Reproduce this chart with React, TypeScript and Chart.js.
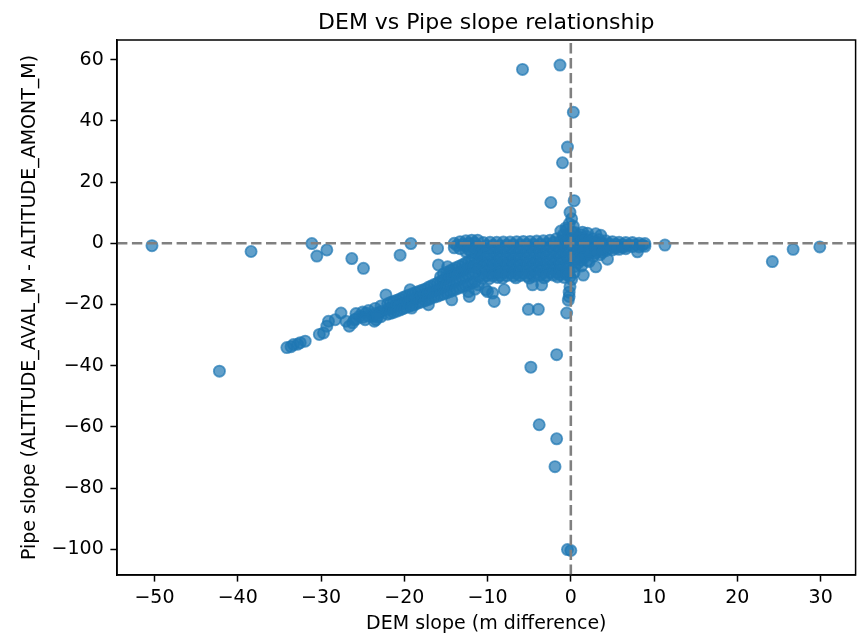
import React, { useEffect, useRef } from "react";
import { Chart, registerables } from "chart.js";

Chart.register(...registerables);

type Pt = [number, number];

const chartTitle = "DEM vs Pipe slope relationship";
const xAxisLabel = "DEM slope (m difference)";
const yAxisLabel = "Pipe slope (ALTITUDE_AVAL_M - ALTITUDE_AMONT_M)";
const xTickValues = [-50, -40, -30, -20, -10, 0, 10, 20, 30];
const yTickValues = [-100, -80, -60, -40, -20, 0, 20, 40, 60];
const xLimits = [-54.5, 34.2];
const yLimits = [-108.4, 66.4];
const referenceX = 0;
const referenceY = 0;

// Isolated points
const sparseOutliers: Pt[] = [
  [-50.3, -0.8], [-42.2, -41.8], [-38.4, -2.7], [-31.1, -0.1], [-30.5, -4.2],
  [-29.3, -2.2], [-26.3, -5.0], [-24.9, -8.2], [-20.5, -3.9], [-19.2, -0.1],
  [-16.0, -1.7], [-15.9, -7.1], [-14.8, -7.7], [11.3, -0.6], [24.2, -6.0],
  [26.7, -2.0], [29.9, -1.2],
];

const upperStem: Pt[] = [
  [-5.8, 56.8], [-1.3, 58.2], [0.3, 42.8], [-0.4, 31.4], [-1.0, 26.3],
  [-2.4, 13.3], [0.4, 13.9], [-0.1, 10.1], [0.1, 8.0], [-0.2, 6.3],
  [-0.5, 4.4], [-0.9, 2.8], [0.2, 3.5], [-0.6, 5.0], [0.3, 5.6], [-1.2, 4.0],
];

const lowerStem: Pt[] = [
  [0.1, -11.8], [-0.1, -14.2], [-0.2, -16.0], [-0.2, -17.4], [-0.3, -18.6],
  [-0.5, -22.8], [-1.7, -36.4], [-4.8, -40.5], [-3.8, -59.3], [-1.7, -63.9],
  [-1.9, -73.0], [-0.4, -100.1], [0.0, -100.4],
];

const bandScatter: Pt[] = [
  [-22.2, -16.9], [-19.3, -15.2], [-19.1, -21.2], [-17.1, -20.1], [-14.3, -18.5],
  [-12.2, -17.4], [-10.0, -15.8], [-9.4, -16.3], [-9.2, -19.0], [-8.0, -15.2],
  [-10.2, -15.2], [-5.1, -21.6], [-3.9, -21.6], [-4.6, -13.6], [-3.5, -13.6],
  [1.5, -10.4], [3.0, -7.7], [2.2, -6.0], [4.4, -5.2],
];

const farLeftBand: Pt[] = [
  [-34.1, -34.1], [-33.6, -33.8], [-33.3, -33.1], [-32.8, -33.0], [-32.5, -32.5],
  [-31.9, -32.0], [-30.2, -29.8], [-29.7, -29.3], [-29.3, -27.1], [-29.1, -25.5],
  [-28.3, -25.0], [-27.6, -22.8], [-27.0, -25.5], [-26.6, -27.1], [-26.0, -25.0],
  [-25.4, -23.9], [-24.6, -22.8], [-23.8, -23.9], [-23.4, -25.0], [-23.6, -25.5],
  [-23.0, -22.8], [-25.8, -23.0], [-25.8, -24.8], [-25.0, -22.5], [-25.0, -24.2],
  [-24.3, -22.0], [-24.3, -23.8], [-23.5, -21.3], [-23.5, -23.0], [-22.8, -20.5],
  [-22.8, -22.3], [-22.8, -24.0], [-26.2, -26.0], [-24.7, -25.0], [-23.2, -24.1],
];

const diagonalBand: Pt[] = [
  [-22.0, -19.8], [-22.0, -21.6], [-22.0, -23.2],
  [-21.65, -19.4], [-21.65, -21.2], [-21.65, -22.9],
  [-21.3, -19.0], [-21.3, -20.8], [-21.3, -22.6],
  [-20.9, -18.6], [-20.9, -20.4], [-20.9, -22.2],
  [-20.5, -18.2], [-20.5, -20.0], [-20.5, -21.8],
  [-20.15, -17.7], [-20.15, -19.6], [-20.15, -21.4],
  [-19.8, -17.3], [-19.8, -19.2], [-19.8, -21.0],
  [-19.4, -16.9], [-19.4, -18.8], [-19.4, -20.6],
  [-19.0, -16.5], [-19.0, -18.3], [-19.0, -20.3],
  [-18.65, -16.1], [-18.65, -18.0], [-18.65, -19.9],
  [-18.3, -15.8], [-18.3, -17.6], [-18.3, -19.5],
  [-17.9, -15.4], [-17.9, -17.2], [-17.9, -19.2],
  [-17.5, -15.0], [-17.5, -16.8], [-17.5, -18.8],
  [-17.15, -14.5], [-17.15, -16.4], [-17.15, -18.4],
  [-16.8, -14.0], [-16.8, -16.0], [-16.8, -18.0],
  [-16.4, -13.5], [-16.4, -15.6], [-16.4, -17.6],
  [-16.0, -13.0], [-16.0, -15.2], [-16.0, -17.3],
  [-15.65, -11.0], [-15.65, -12.5], [-15.65, -14.8], [-15.65, -16.9],
  [-15.3, -10.0], [-15.3, -12.0], [-15.3, -14.3], [-15.3, -16.6],
  [-14.9, -9.5], [-14.9, -11.5], [-14.9, -13.8], [-14.9, -16.2],
  [-14.5, -9.0], [-14.5, -11.0], [-14.5, -13.4], [-14.5, -15.8],
  [-14.15, -8.5], [-14.15, -10.5], [-14.15, -13.0], [-14.15, -15.4],
  [-13.8, -8.0], [-13.8, -10.0], [-13.8, -12.5], [-13.8, -15.0],
  [-13.4, -7.5], [-13.4, -9.5], [-13.4, -12.0], [-13.4, -14.6],
  [-13.0, -7.0], [-13.0, -9.0], [-13.0, -11.5], [-13.0, -14.2],
  [-12.65, -6.5], [-12.65, -8.5], [-12.65, -11.0], [-12.65, -13.8],
  [-12.3, -6.0], [-12.3, -8.0], [-12.3, -10.5], [-12.3, -13.5], [-12.3, -15.8],
  [-11.9, -5.5], [-11.9, -7.6], [-11.9, -10.0], [-11.9, -13.0],
  [-11.5, -5.0], [-11.5, -7.2], [-11.5, -9.6], [-11.5, -12.6], [-11.5, -15.0],
  [-11.1, -6.0], [-11.1, -8.4], [-11.1, -11.0], [-11.1, -13.6],
];

const topLeftBand: Pt[] = [
  [-14.0, 0.0], [-14.0, -1.5], [-13.3, 0.5], [-13.3, -1.8], [-12.6, 0.8],
  [-12.6, -1.0], [-12.6, -2.8], [-11.9, 1.0], [-11.9, -0.8], [-11.9, -3.0],
  [-11.2, 1.0], [-11.2, -1.0], [-11.2, -3.2],
  [-13.65, -0.7], [-12.95, -0.4], [-12.25, -0.1], [-12.25, -2.0], [-11.55, 0.1],
  [-11.55, -2.0], [-10.9, -2.2], [-10.9, -4.2],
];

const coreCluster: Pt[] = [
  [-10.5, 0.2], [-10.5, -1.8], [-10.5, -3.8], [-10.5, -5.8], [-10.5, -7.8], [-10.5, -9.8], [-10.6, -11.5],
  [-9.7, 0.3], [-9.7, -1.7], [-9.7, -3.9], [-9.7, -5.9], [-9.7, -7.7], [-9.7, -9.9], [-9.8, -11.6],
  [-8.9, 0.3], [-8.9, -1.8], [-8.9, -3.8], [-8.9, -5.8], [-8.9, -7.8], [-8.9, -9.8], [-8.8, -11.2],
  [-8.1, 0.4], [-8.1, -1.7], [-8.1, -3.7], [-8.1, -5.9], [-8.1, -7.9], [-8.1, -9.7], [-8.2, -11.4],
  [-7.3, 0.4], [-7.3, -1.6], [-7.3, -3.8], [-7.3, -5.8], [-7.3, -7.8], [-7.3, -9.8],
  [-6.5, 0.5], [-6.5, -1.6], [-6.5, -3.7], [-6.5, -5.7], [-6.5, -7.9], [-6.5, -9.9], [-6.6, -11.3],
  [-5.7, 0.6], [-5.7, -1.5], [-5.7, -3.6], [-5.7, -5.8], [-5.7, -7.8], [-5.7, -9.8],
  [-4.9, 0.6], [-4.9, -1.4], [-4.9, -3.6], [-4.9, -5.7], [-4.9, -7.7], [-4.9, -9.9], [-5.0, -11.4],
  [-4.1, 0.7], [-4.1, -1.4], [-4.1, -3.5], [-4.1, -5.6], [-4.1, -7.8], [-4.1, -9.8],
  [-3.3, 0.8], [-3.3, -1.3], [-3.3, -3.5], [-3.3, -5.6], [-3.3, -7.7], [-3.3, -9.7], [-3.2, -11.3],
  [-2.5, 1.0], [-2.5, -1.2], [-2.5, -3.4], [-2.5, -5.5], [-2.5, -7.6], [-2.5, -9.6],
  [-1.7, 1.5], [-1.7, -1.0], [-1.7, -3.2], [-1.7, -5.4], [-1.7, -7.5], [-1.7, -9.6], [-1.6, -11.0],
  [-0.9, 2.2], [-0.9, -0.3], [-0.9, -2.8], [-0.9, -5.2], [-0.9, -7.4], [-0.9, -9.5], [-0.8, -11.2],
  [-0.2, 3.0], [-0.2, 0.6], [-0.2, -2.0], [-0.2, -4.5], [-0.2, -7.0], [-0.2, -9.3], [-0.1, -11.0],
  [-10.1, -0.8], [-10.1, -2.8], [-10.1, -4.8], [-10.1, -6.8], [-10.1, -8.8], [-10.1, -10.6],
  [-9.3, -0.7], [-9.3, -2.8], [-9.3, -4.9], [-9.3, -6.8], [-9.3, -8.8], [-9.3, -10.7],
  [-8.5, -0.8], [-8.5, -2.7], [-8.5, -4.8], [-8.5, -6.9], [-8.5, -8.7], [-8.5, -10.5],
  [-7.7, -0.6], [-7.7, -2.7], [-7.7, -4.8], [-7.7, -6.8], [-7.7, -8.8], [-7.7, -10.6],
  [-6.9, -0.5], [-6.9, -2.7], [-6.9, -4.7], [-6.9, -6.8], [-6.9, -8.9], [-6.9, -10.7],
  [-6.1, -0.5], [-6.1, -2.6], [-6.1, -4.7], [-6.1, -6.7], [-6.1, -8.8], [-6.1, -10.6],
  [-5.3, -0.4], [-5.3, -2.5], [-5.3, -4.6], [-5.3, -6.8], [-5.3, -8.8], [-5.3, -10.7],
  [-4.5, -0.4], [-4.5, -2.5], [-4.5, -4.6], [-4.5, -6.7], [-4.5, -8.7], [-4.5, -10.8],
  [-3.7, -0.3], [-3.7, -2.4], [-3.7, -4.5], [-3.7, -6.6], [-3.7, -8.7], [-3.7, -10.5],
  [-2.9, -0.2], [-2.9, -2.3], [-2.9, -4.4], [-2.9, -6.5], [-2.9, -8.6], [-2.9, -10.6],
  [-2.1, 0.2], [-2.1, -2.1], [-2.1, -4.3], [-2.1, -6.4], [-2.1, -8.5], [-2.1, -10.4],
  [-1.3, 0.6], [-1.3, -1.9], [-1.3, -4.2], [-1.3, -6.4], [-1.3, -8.5], [-1.3, -10.3],
  [-0.5, 1.6], [-0.5, -1.2], [-0.5, -3.6], [-0.5, -6.0], [-0.5, -8.2], [-0.5, -10.2],
];

const rightBand: Pt[] = [
  [0.5, 3.5], [0.5, 1.2], [0.5, -1.0], [0.5, -3.2], [0.5, -5.4], [0.5, -7.6], [0.4, -9.5],
  [1.2, 2.8], [1.2, 0.6], [1.2, -1.5], [1.2, -3.6], [1.2, -5.6], [1.3, -7.4],
  [1.9, 2.2], [1.9, 0.2], [1.9, -1.8], [1.9, -3.8], [2.0, -5.6],
  [2.6, 1.5], [2.6, -0.5], [2.6, -2.5], [2.7, -4.2],
  [3.4, 1.2], [3.4, -0.6], [3.4, -2.4], [3.5, -3.8],
  [4.2, 0.8], [4.2, -0.8], [4.2, -2.4],
  [5.0, 0.5], [5.0, -1.0], [5.0, -2.2],
  [5.8, 0.3], [5.8, -1.0], [5.8, -2.0],
  [6.6, 0.2], [6.6, -1.0], [6.6, -1.8],
  [7.4, 0.2], [7.4, -1.1],
  [8.2, 0.0], [8.2, -1.2], [8.0, -2.8],
  [8.9, -0.1], [8.9, -1.0],
  [1.4, 3.6], [2.0, 3.3], [3.0, 3.1], [3.6, 2.6],
  [0.85, 2.0], [0.85, -0.2], [0.85, -2.4], [0.85, -4.5], [0.85, -6.5],
  [1.55, 1.5], [1.55, -0.7], [1.55, -2.8], [1.55, -4.8],
  [2.25, 0.9], [2.25, -1.2], [2.25, -3.2],
  [3.0, 0.5], [3.0, -1.5], [3.0, -3.2],
  [3.8, 0.0], [3.8, -1.6], [3.8, -3.0],
  [4.6, -0.2], [4.6, -1.8], [5.4, -0.3], [5.4, -1.6], [6.2, -0.4], [6.2, -1.4],
  [7.0, -0.5], [7.8, -0.5], [8.6, -0.6],
];

const allPoints: Pt[] = [
  ...farLeftBand, ...diagonalBand, ...topLeftBand, ...coreCluster, ...rightBand,
  ...bandScatter, ...upperStem, ...lowerStem, ...sparseOutliers,
];

const FONT = '"DejaVu Sans", sans-serif';
const fmt = (v: number | string) => {
  const n = Number(v);
  return n < 0 ? "\u2212" + Math.abs(n) : String(n);
};

const decorPlugin = {
  id: "decor",
  afterDatasetsDraw(chart: any) {
    const { ctx, chartArea: a, scales } = chart;
    const x0 = scales.x.getPixelForValue(referenceX);
    const y0 = scales.y.getPixelForValue(referenceY);
    ctx.save();
    ctx.beginPath();
    ctx.rect(a.left, a.top, a.right - a.left, a.bottom - a.top);
    ctx.clip();
    ctx.strokeStyle = "#808080";
    ctx.lineWidth = 2.6;
    ctx.setLineDash([10.4, 4.5]);
    ctx.beginPath();
    ctx.moveTo(a.left, y0);
    ctx.lineTo(a.right, y0);
    ctx.stroke();
    ctx.beginPath();
    ctx.moveTo(x0, a.bottom);
    ctx.lineTo(x0, a.top);
    ctx.stroke();
    ctx.restore();
  },
  afterDraw(chart: any) {
    const { ctx, chartArea: a } = chart;
    ctx.save();
    ctx.setLineDash([]);
    ctx.strokeStyle = "#000";
    ctx.lineWidth = 1.5;
    ctx.strokeRect(a.left, a.top, a.right - a.left, a.bottom - a.top);
    ctx.fillStyle = "#000";
    ctx.font = `22px ${FONT}`;
    ctx.textAlign = "center";
    ctx.textBaseline = "alphabetic";
    ctx.fillText(chartTitle, (a.left + a.right) / 2, a.top - 11.5);
    ctx.restore();
  },
};

export default function App() {
  const canvasRef = useRef<HTMLCanvasElement | null>(null);

  useEffect(() => {
    const canvas = canvasRef.current;
    if (!canvas) return;
    const tickFont = { family: FONT, size: 19 };
    const chart = new Chart(canvas, {
      type: "scatter",
      data: {
        datasets: [
          {
            data: allPoints.map(([x, y]) => ({ x, y })),
            backgroundColor: "rgba(31,119,180,0.7)",
            borderColor: "rgba(31,119,180,0.7)",
            borderWidth: 1.8,
            pointRadius: 5.6,
            pointHoverRadius: 5.6,
          },
        ],
      },
      options: {
        responsive: false,
        animation: false,
        devicePixelRatio: 1,
        events: [],
        layout: { padding: { top: 40, right: 6, left: 0, bottom: 0 } },
        plugins: {
          legend: { display: false },
          tooltip: { enabled: false },
          title: { display: false },
        },
        scales: {
          x: {
            type: "linear",
            position: "bottom",
            min: xLimits[0],
            max: xLimits[1],
            afterBuildTicks: (s: any) => {
              s.ticks = xTickValues.map((v) => ({ value: v }));
            },
            afterFit: (s: any) => {
              s.height = 62;
            },
            ticks: {
              font: tickFont,
              color: "#000",
              padding: 5.5,
              maxRotation: 0,
              autoSkip: false,
              callback: (v: any) => fmt(v),
            },
            grid: {
              display: true,
              drawOnChartArea: false,
              drawTicks: true,
              tickLength: 6.6,
              tickWidth: 1.5,
              tickColor: "#000",
            },
            border: { display: true, color: "#000", width: 1.5 },
            title: {
              display: true,
              text: xAxisLabel,
              font: tickFont,
              color: "#000",
              padding: { top: 0, bottom: 2 },
            },
          },
          y: {
            type: "linear",
            position: "left",
            min: yLimits[0],
            max: yLimits[1],
            afterBuildTicks: (s: any) => {
              s.ticks = yTickValues.map((v) => ({ value: v }));
            },
            afterFit: (s: any) => {
              s.width = 117;
            },
            ticks: {
              font: tickFont,
              color: "#000",
              padding: 6.6,
              autoSkip: false,
              callback: (v: any) => fmt(v),
            },
            grid: {
              display: true,
              drawOnChartArea: false,
              drawTicks: true,
              tickLength: 6.6,
              tickWidth: 1.5,
              tickColor: "#000",
            },
            border: { display: true, color: "#000", width: 1.5 },
            title: {
              display: true,
              text: yAxisLabel,
              font: tickFont,
              color: "#000",
              padding: { top: 19, bottom: 0 },
            },
          },
        },
      },
      plugins: [decorPlugin],
    } as any);
    return () => chart.destroy();
  }, []);

  return (
    <div style={{ position: "absolute", left: 0, top: 0, width: 863, height: 637, background: "#fff" }}>
      <canvas ref={canvasRef} width={863} height={637} style={{ display: "block", width: 863, height: 637 }} />
    </div>
  );
}
